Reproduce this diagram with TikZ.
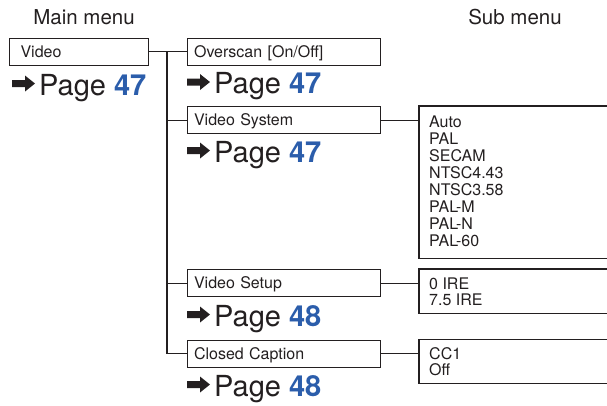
\documentclass[tikz,border=0pt]{standalone}
\usepackage{fontspec}
\setmainfont{TeX Gyre Heros}
\definecolor{ink}{HTML}{231F20}
\definecolor{pblue}{HTML}{2B5DAB}
\tikzset{
  mbox/.style={draw=ink, line width=1.1pt, rectangle, anchor=north west,
    inner ysep=0pt, minimum height=27pt, text height=11.6pt, text depth=0pt,
    font=\fontsize{16}{16.5}\selectfont, text=ink, align=left},
  conn/.style={draw=ink, line width=1.1pt},
  subframe/.style={rectangle, anchor=north west, inner sep=0pt, minimum width=200pt},
  subtext/.style={anchor=base west, inner sep=0pt, font=\fontsize{16}{16.5}\selectfont, text=ink},
  head/.style={anchor=base, inner sep=0pt, font=\fontsize{20.5}{22}\selectfont, text=ink},
  pgtext/.style={anchor=base west, inner sep=0pt, font=\fontsize{29}{30}\selectfont, text=ink},
  rarrow/.pic={\fill[ink] (0,-3.5) -- (13,-3.5) -- (13,-8) -- (23,0) -- (13,8) -- (13,3.5) -- (0,3.5) -- cycle;}
}
\newcommand{\pagelink}[4]{%
  \pic at (#2,#3-11.5) {rarrow};
  \node[pgtext] (#1) at (#2+27,#3) {Page \textbf{\color{pblue}#4}};
}
\begin{document}
\begin{tikzpicture}[x=1pt,y=-1pt]
\useasboundingbox (0,0) rectangle (607,405);

% headings
\node[head] (hmain) at (84,24) {Main menu};
\node[head] (hsub) at (515,24) {Sub menu};

% main menu
\node[mbox, minimum width=139pt, text width=117pt, inner xsep=11pt] (video) at (9,37.5) {Video};
\pagelink{pv}{12}{95}{47}

% menu items
\node[mbox, minimum width=193pt, text width=180pt, inner xsep=6.5pt] (overscan) at (187,37.5) {Overscan [On/Off]};
\node[mbox, minimum width=193pt, text width=180pt, inner xsep=6.5pt] (vsys) at (187,106) {Video System};
\node[mbox, minimum width=193pt, text width=180pt, inner xsep=6.5pt] (vsetup) at (187,269) {Video Setup};
\node[mbox, minimum width=193pt, text width=180pt, inner xsep=6.5pt] (cap) at (187,339.5) {Closed Caption};

\pagelink{po}{187}{93.5}{47}
\pagelink{ps}{187}{162}{47}
\pagelink{pu}{187}{326}{48}
\pagelink{pc}{187}{396}{48}

% sub menus (open on the right)
\node[subframe, minimum height=152pt] (sub1) at (419,106) {};
\node[subframe, minimum height=44pt] (sub2) at (419,269) {};
\node[subframe, minimum height=44pt] (sub3) at (419,339.5) {};
\foreach \s in {sub1,sub2,sub3}{
  \draw[conn] (\s.north east) -- (\s.north west) -- (\s.south west) -- (\s.south east);
}
\foreach \t [count=\i from 0] in {Auto,PAL,SECAM,NTSC4.43,NTSC3.58,PAL-M,PAL-N,PAL-60}{
  \node[subtext] (sa\i) at (429,127.2+17.1*\i) {\t};
}
\node[subtext] (sb0) at (429,289) {0 IRE};
\node[subtext] (sb1) at (429,305) {7.5 IRE};
\node[subtext] (sc0) at (429,359.5) {CC1};
\node[subtext] (sc1) at (429,375.5) {Off};

% connectors
\coordinate (trunk) at (167,0);
\draw[conn] (video.east) -- (overscan.west);
\draw[conn] (trunk |- video.east) -- (trunk |- cap.west);
\draw[conn] (trunk |- vsys.west) -- (vsys.west);
\draw[conn] (trunk |- vsetup.west) -- (vsetup.west);
\draw[conn] (trunk |- cap.west) -- (cap.west);
\draw[conn] (vsys.east) -- (sub1.west |- vsys.east);
\draw[conn] (vsetup.east) -- (sub2.west |- vsetup.east);
\draw[conn] (cap.east) -- (sub3.west |- cap.east);
\end{tikzpicture}
\end{document}
